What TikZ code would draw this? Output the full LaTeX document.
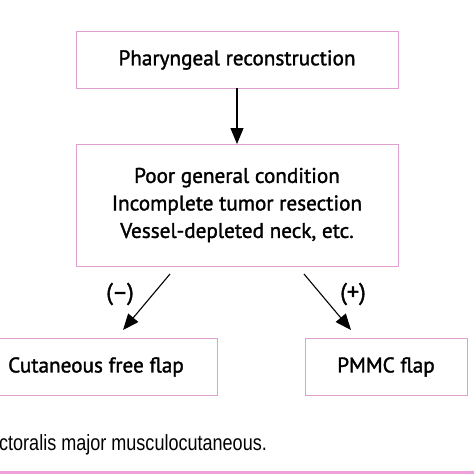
\documentclass[tikz,border=0pt]{standalone}
\usepackage{fontspec}
\setmainfont[FakeBold=1.2]{PT Sans}
\newfontfamily\flowfont[FakeBold=1.5]{PT Sans}
\newfontfamily\capfont{Liberation Sans}
\usetikzlibrary{arrows.meta}
\definecolor{boxpink}{HTML}{DDA0CF}
\definecolor{barpink}{HTML}{F0A0D8}
\tikzset{
  flowbox/.style={draw=boxpink, line width=1pt, fill=white},
  flowtext/.style={font=\flowfont\fontsize{21.2}{27.5}\selectfont, align=center, inner sep=0pt},
  flowarrow/.style={line width=1.1pt, -{Triangle[length=16pt,width=13pt]}},
  signlabel/.style={font=\flowfont\fontsize{24}{26}\selectfont, inner sep=0pt}
}
\begin{document}
\begin{tikzpicture}[x=1pt,y=-1pt]
\path[use as bounding box] (0,0) rectangle (474,474);
\begin{scope}
\clip (0,0) rectangle (474,474);
% boxes
\draw[flowbox] (76,31) rectangle (398,88);
\node[flowtext] (t1) at (237,60) {Pharyngeal reconstruction};
\coordinate (b1) at (237,88);
\draw[flowbox] (76,144) rectangle (398,266);
\node[flowtext] (t2) at (237,205) {Poor general condition\\Incomplete tumor resection\\Vessel-depleted neck, etc.};
\coordinate (b2top) at (237,144);
\coordinate (b2l) at (170,274);
\coordinate (b2r) at (304,274);
\draw[flowbox] (-5,338) rectangle (217,395);
\node[flowtext] (t3) at (96,367) {Cutaneous free flap};
\coordinate (b3top) at (123,330);
\draw[flowbox] (305,338) rectangle (467,395);
\node[flowtext] (t4) at (386,367) {PMMC flap};
\coordinate (b4top) at (351,330);
% arrows
\draw[flowarrow] (b1) -- (b2top);
\draw[flowarrow] (b2l) -- (b3top);
\draw[flowarrow] (b2r) -- (b4top);
\node[signlabel] (minus) at (120,294) {(–)};
\node[signlabel] (plus) at (353,294) {(+)};
% caption
\node[anchor=base west, inner sep=0pt, font=\capfont\fontsize{22}{26}\selectfont, xscale=0.82] (cap) at (-1,450) {ctoralis major musculocutaneous.};
\fill[barpink] (0,471) rectangle (474,474);
\end{scope}
\end{tikzpicture}
\end{document}
